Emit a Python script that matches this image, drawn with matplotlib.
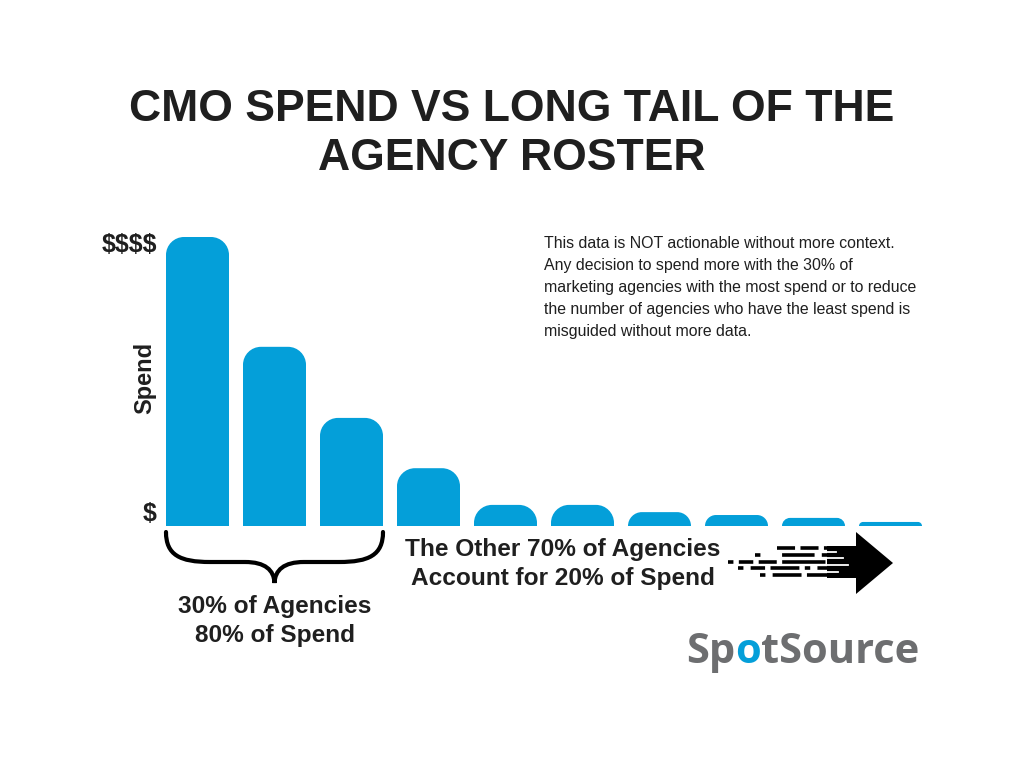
import matplotlib
matplotlib.use('Agg')
import matplotlib.pyplot as plt
from matplotlib.path import Path
from matplotlib.patches import PathPatch, Polygon, Rectangle
from matplotlib.lines import Line2D

plt.rcParams['text.parse_math'] = False

# data
agencies = list(range(10))
spend = [100, 62, 37.4, 20, 7.3, 7.3, 4.8, 3.8, 2.8, 1.4]
title = 'CMO SPEND VS LONG TAIL OF THE\nAGENCY ROSTER'
note = ('This data is NOT actionable without more context.\n'
        'Any decision to spend more with the 30% of\n'
        'marketing agencies with the most spend or to reduce\n'
        'the number of agencies who have the least spend is\n'
        'misguided without more data.')
top_label = '30% of Agencies\n80% of Spend'
tail_label = 'The Other 70% of Agencies\nAccount for 20% of Spend'

blue = '#049fd9'
dark = '#1f1f1f'
W, H = 1024, 768

fig = plt.figure(figsize=(10.24, 7.68), dpi=100)
fig.patch.set_facecolor('white')

def fx(x):
    return x / W

def fy(y):
    return 1 - y / H

# axes: left 150px, right 940px, baseline 526px, top 230px
ax = fig.add_axes([fx(150), fy(526), fx(790), (526 - 230) / H])
xmin, xmax = -47.5 / 77, (940 - 197.5) / 77
ymax = 296 / 289 * 100
ax.set_xlim(xmin, xmax)
ax.set_ylim(0, ymax)
ax.axis('off')

width = 63 / 77
px_x = 790 / (xmax - xmin)   # pixels per x unit
px_y = 296 / ymax            # pixels per y unit
k = 0.5523

def rounded_bar(xc, h, rpx=18):
    r = min(rpx, h * px_y)
    rx, ry = r / px_x, r / px_y
    x0, x1 = xc - width / 2, xc + width / 2
    verts = [(x0, 0), (x0, h - ry),
             (x0, h - ry + k * ry), (x0 + rx - k * rx, h), (x0 + rx, h),
             (x1 - rx, h),
             (x1 - rx + k * rx, h), (x1, h - ry + k * ry), (x1, h - ry),
             (x1, 0), (x0, 0)]
    codes = [Path.MOVETO, Path.LINETO,
             Path.CURVE4, Path.CURVE4, Path.CURVE4,
             Path.LINETO,
             Path.CURVE4, Path.CURVE4, Path.CURVE4,
             Path.LINETO, Path.CLOSEPOLY]
    return PathPatch(Path(verts, codes), facecolor=blue, edgecolor='none')

for a, s in zip(agencies, spend):
    ax.add_patch(rounded_bar(a, s))

# title
fig.text(0.5, fy(134), title, ha='center', va='center', fontsize=32,
         fontweight='bold', color=dark, family='Liberation Sans', linespacing=1.28)

# axis labels
fig.text(fx(157), fy(245), '$$$$', ha='right', va='center', fontsize=18,
         fontweight='bold', color=dark, family='Liberation Sans')
fig.text(fx(157), fy(514), '$', ha='right', va='center', fontsize=18,
         fontweight='bold', color=dark, family='Liberation Sans')
fig.text(fx(145), fy(378), 'Spend', ha='center', va='center', fontsize=17,
         fontweight='bold', color=dark, family='Liberation Sans', rotation=90)

# note
fig.text(fx(544), fy(236), note, ha='left', va='top', fontsize=11.4,
         color=dark, family='Liberation Sans', linespacing=1.58)

# group labels
fig.text(fx(275), fy(621), top_label, ha='center', va='center', fontsize=17.6,
         fontweight='bold', color=dark, family='Liberation Sans', linespacing=1.28)
fig.text(fx(563), fy(564), tail_label, ha='center', va='center', fontsize=17.6,
         fontweight='bold', color=dark, family='Liberation Sans', linespacing=1.28)

# brace
def P(x, y):
    return (fx(x), fy(y))

bv = [P(166, 532), P(166, 555), P(180, 562), P(210, 562), P(245, 562),
      P(265, 562), P(274, 570), P(274.5, 583),
      P(275, 570), P(284, 562), P(304, 562), P(339, 562),
      P(369, 562), P(383, 555), P(383, 532)]
bc = [Path.MOVETO, Path.CURVE4, Path.CURVE4, Path.CURVE4, Path.LINETO,
      Path.CURVE4, Path.CURVE4, Path.CURVE4,
      Path.CURVE4, Path.CURVE4, Path.CURVE4, Path.LINETO,
      Path.CURVE4, Path.CURVE4, Path.CURVE4]
fig.add_artist(PathPatch(Path(bv, bc), facecolor='none', edgecolor='black',
                         lw=3, capstyle='round', transform=fig.transFigure))

# speed arrow
fig.add_artist(Polygon([P(856, 532), P(893, 563), P(856, 594)], closed=True,
                       facecolor='black', edgecolor='none', transform=fig.transFigure))
fig.add_artist(Rectangle(P(827, 578), fx(30), 32 / H, facecolor='black',
                         edgecolor='none', transform=fig.transFigure))
rows = [(548, 777, [5, 1.5, 5, 1.5]), (555, 755, [1.5, 6, 9, 2]),
        (561.5, 728, [1.5, 1.5, 4, 1.5, 5, 1.5, 12, 2]),
        (568, 738, [1.5, 2, 4, 1.5, 8, 1.5]), (575, 760, [1.5, 2, 8, 1.5, 6, 1.5])]
for yy, x0, dash in rows:
    fig.add_artist(Line2D([fx(x0), fx(827)], [fy(yy), fy(yy)], color='black', lw=2.6,
                          linestyle=(0, dash), transform=fig.transFigure))
whites = [(551.5, 836), (558, 843), (565, 848), (571.5, 838)]
for yy, x1 in whites:
    fig.add_artist(Line2D([fx(826), fx(x1)], [fy(yy), fy(yy)], color='white',
                          lw=1.3, transform=fig.transFigure))

# logo
gray = '#6d6e70'
t1 = fig.text(fx(686), fy(663), 'Sp', ha='left', va='baseline', fontsize=30,
              fontweight='bold', color=gray, family='Open Sans')
t2 = fig.text(0, 0, 'o', ha='left', va='baseline', fontsize=30, fontweight='bold',
              color=blue, family='Open Sans')
t3 = fig.text(0, 0, 'tSource', ha='left', va='baseline', fontsize=30,
              fontweight='bold', color=gray, family='Open Sans')
fig.canvas.draw()
r = fig.canvas.get_renderer()
b1 = t1.get_window_extent(r)
t2.set_position((b1.x1 / W, fy(663)))
fig.canvas.draw()
b2 = t2.get_window_extent(r)
t3.set_position((b2.x1 / W, fy(663)))

fig.savefig('out.png', dpi=100, facecolor='white')
